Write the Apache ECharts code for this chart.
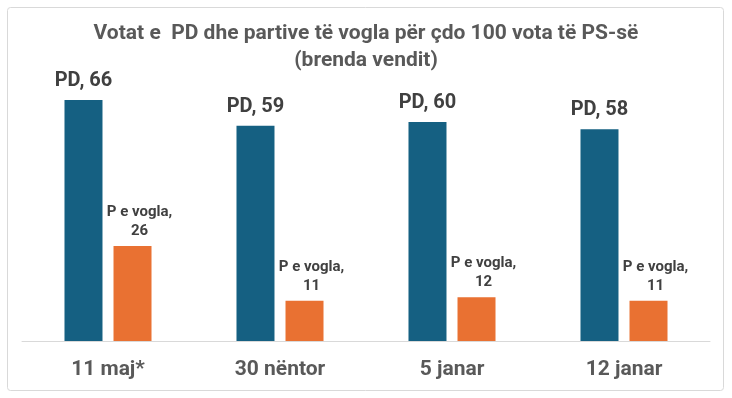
<!DOCTYPE html>
<html>
<head>
<meta charset="utf-8">
<script src="https://cdn.jsdelivr.net/npm/echarts@6/dist/echarts.min.js"></script>
<style>
  html, body { margin: 0; padding: 0; background: #fff; }
  #main { width: 732px; height: 398px; }
</style>
</head>
<body>
<div id="main"></div>
<script>
  // të dhënat
  var categories = ['11 maj*', '30 nëntor', '5 janar', '12 janar'];
  var pdValues = [66, 59, 60, 58];
  var smallValues = [26, 11, 12, 11];

  var chart = echarts.init(document.getElementById('main'));

  var option = {
    backgroundColor: '#fff',
    title: {
      text: 'Votat e  PD dhe partive të vogla për çdo 100 vota të PS-së\n(brenda vendit)',
      left: 'center',
      top: 15,
      textStyle: {
        fontFamily: 'Liberation Sans Narrow, Roboto, sans-serif',
        fontSize: 21,
        fontWeight: 'bold',
        color: '#595959',
        lineHeight: 27
      }
    },
    graphic: [{
      type: 'rect',
      shape: { x: 7.5, y: 7.5, width: 716, height: 383, r: 3 },
      style: { fill: 'none', stroke: '#d9d9d9', lineWidth: 1 },
      silent: true
    }],
    grid: { left: 22, right: 22, top: 85.5, bottom: 57 },
    xAxis: {
      type: 'category',
      data: categories,
      axisTick: { show: false },
      axisLine: { lineStyle: { color: '#d9d9d9', width: 1 } },
      axisLabel: {
        margin: 18,
        fontFamily: 'Roboto, sans-serif',
        fontSize: 21,
        fontWeight: 'bold',
        color: '#595959'
      }
    },
    yAxis: {
      type: 'value',
      min: 0,
      max: 70,
      show: false,
      splitLine: { show: false }
    },
    series: [
      {
        name: 'PD',
        type: 'bar',
        data: pdValues,
        barWidth: 38,
        barGap: '29%',
        itemStyle: { color: '#156082' },
        label: {
          show: true,
          position: 'top',
          distance: 9,
          formatter: '{a}, {c}',
          fontFamily: 'Roboto, sans-serif',
          fontSize: 20,
          fontWeight: 'bold',
          color: '#404040'
        }
      },
      {
        name: 'P e vogla',
        type: 'bar',
        data: smallValues,
        barWidth: 38,
        itemStyle: { color: '#e97132' },
        label: {
          show: true,
          position: 'top',
          distance: 5,
          offset: [7, 0],
          formatter: '{a},\n{c}',
          fontFamily: 'Roboto, sans-serif',
          fontSize: 15,
          lineHeight: 19,
          fontWeight: 'bold',
          color: '#404040'
        }
      }
    ]
  };

  chart.setOption(option);
</script>
</body>
</html>
